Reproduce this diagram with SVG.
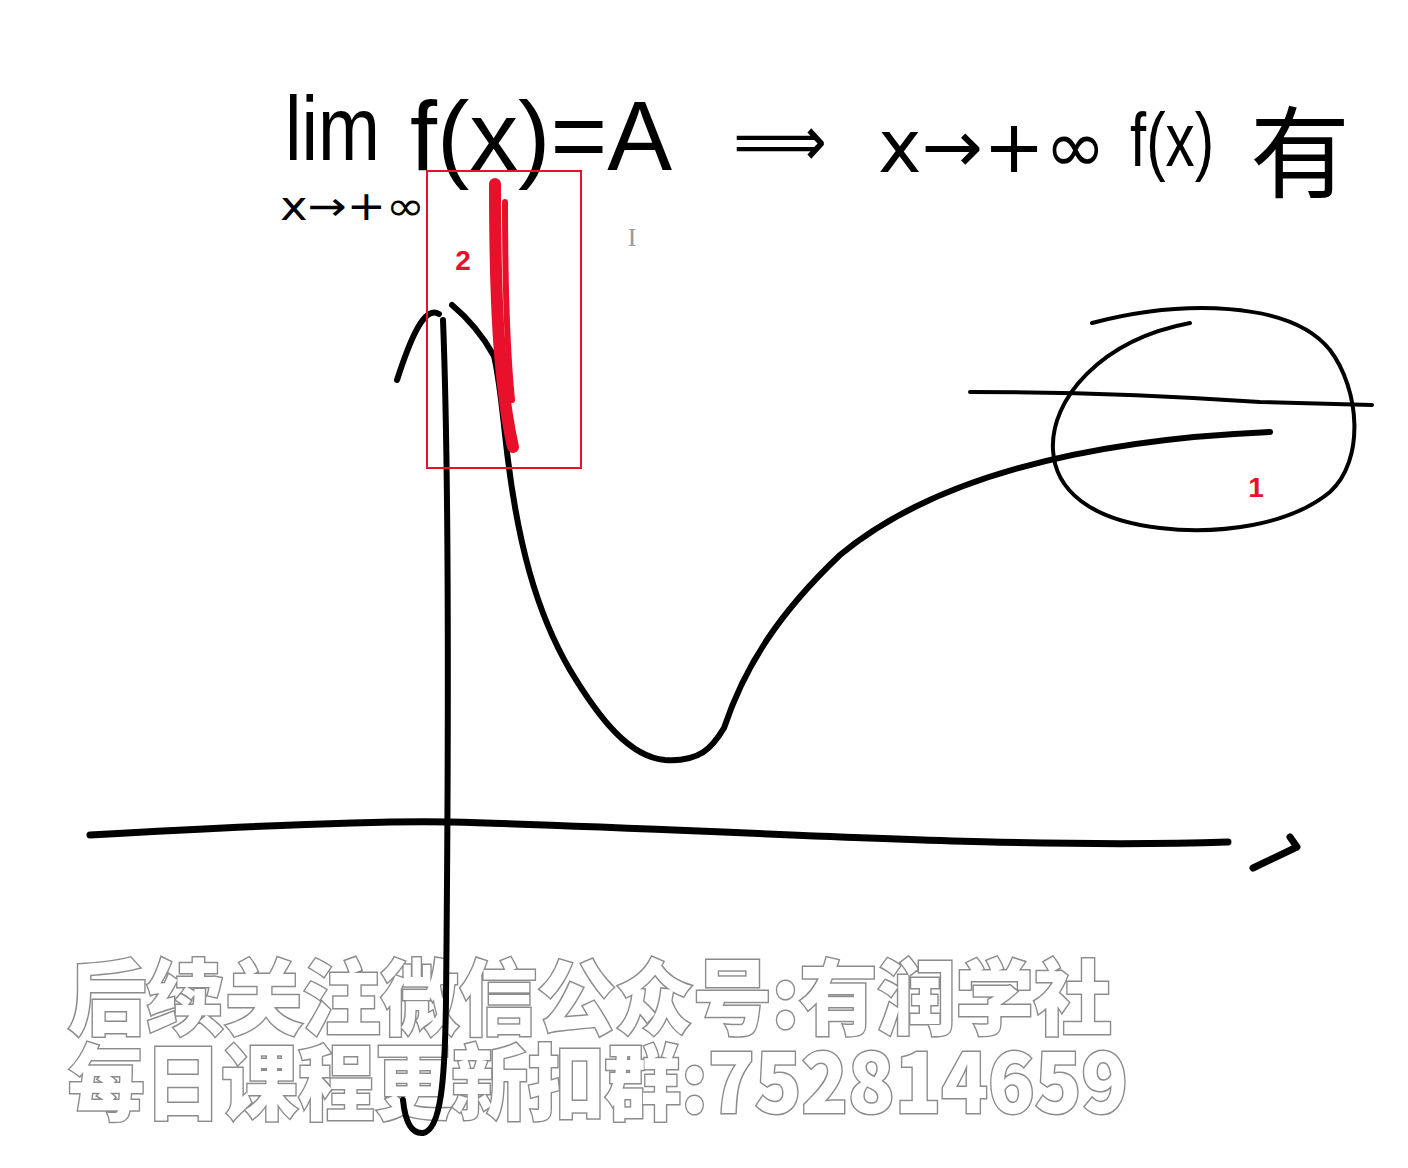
<svg xmlns="http://www.w3.org/2000/svg" width="1408" height="1168" viewBox="0 0 1408 1168">
<style>
.ink{fill:none;stroke:#000;stroke-linecap:round;stroke-linejoin:round}
.hw{font-family:"Liberation Sans","DejaVu Sans","Noto Sans CJK SC",sans-serif;fill:#000}
.dv{font-family:"DejaVu Sans","Liberation Sans",sans-serif;fill:#000}
.wm{font-family:"Noto Sans CJK SC",sans-serif;font-weight:900;fill:#fff;stroke:#8c8c8c;stroke-width:3;paint-order:stroke}
.red{fill:none;stroke:#e8102a;stroke-linecap:round}
.lbl{font-family:"Liberation Sans",Arial,sans-serif;font-weight:bold;fill:#e8102a;font-size:28px}
</style>
<rect width="1408" height="1168" fill="#fff"/>
<g id="watermark">
<text class="wm" x="68" y="1028" font-size="82" textLength="1044" lengthAdjust="spacingAndGlyphs">后续关注微信公众号:有润学社</text>
<text class="wm" x="68" y="1113" font-size="82" textLength="1060" lengthAdjust="spacingAndGlyphs">每日课程更新扣群:752814659</text>
</g>
<g id="formula">
<text class="hw" x="285" y="160" font-size="90" textLength="95" lengthAdjust="spacingAndGlyphs">lim</text>
<text class="dv" x="280" y="220" font-size="40" textLength="145" lengthAdjust="spacingAndGlyphs">x→+∞</text>
<text class="hw" x="410" y="170" font-size="98" textLength="262" lengthAdjust="spacingAndGlyphs">f(x)=A</text>
<text class="dv" x="733" y="166" font-size="72" textLength="94" lengthAdjust="spacingAndGlyphs">⟹</text>
<text class="dv" x="878" y="172" font-size="73" textLength="228" lengthAdjust="spacingAndGlyphs">x→+∞</text>
<text class="hw" x="1130" y="166" font-size="76" textLength="84" lengthAdjust="spacingAndGlyphs">f(x)</text>
<text class="hw" x="1250" y="190" font-size="100" textLength="100" lengthAdjust="spacingAndGlyphs">有</text>
<text x="632" y="246" font-family="Liberation Serif,serif" font-size="26" fill="#999" text-anchor="middle">I</text>
</g>
<g id="axes">
<path class="ink" stroke-width="7" d="M90,835 C 250,826 380,820 450,822 C 700,828 1000,850 1228,842"/>
<path class="ink" stroke-width="7" d="M1253,868 L1297,847 L1290,837"/>
<path class="ink" stroke-width="6" d="M443,320 C 450,500 448,800 446,1000 C 445,1080 441,1130 423,1133 C 411,1134 405,1120 403,1100"/>
</g>
<g id="connectors">
<path class="ink" stroke-width="6" d="M397,380 C 410,340 424,305 439,314"/>
<path class="ink" stroke-width="6" d="M452,305 C 470,320 484,338 494,356 C 500,380 503,420 508,460 C 518,540 535,610 570,670 C 600,720 630,757 665,760 C 700,762 712,748 724,728 C 745,665 780,612 840,555 C 930,480 1080,440 1270,432"/>
<path class="ink" stroke-width="4" d="M970,392 C 1100,392 1200,398 1260,402 L1372,405"/>
<path class="ink" stroke-width="4" d="M1092,323 C 1180,300 1290,300 1330,350 C 1360,390 1365,460 1330,492 C 1290,525 1220,535 1160,528 C 1090,520 1055,490 1053,450 C 1050,400 1100,340 1190,323"/>
</g>
<g id="annotation-2">
<path class="red" stroke-width="12" d="M495,184 C 495,300 499,385 513,447"/>
<path class="red" stroke-width="6" d="M505,202 C 505,300 508,360 512,400"/>
<rect x="427" y="171" width="154" height="297" fill="none" stroke="#e8102a" stroke-width="2"/>
<text class="lbl" x="463" y="270" text-anchor="middle">2</text>
</g>
<g id="annotation-1">
<text class="lbl" x="1256" y="497" text-anchor="middle">1</text>
</g>
</svg>
